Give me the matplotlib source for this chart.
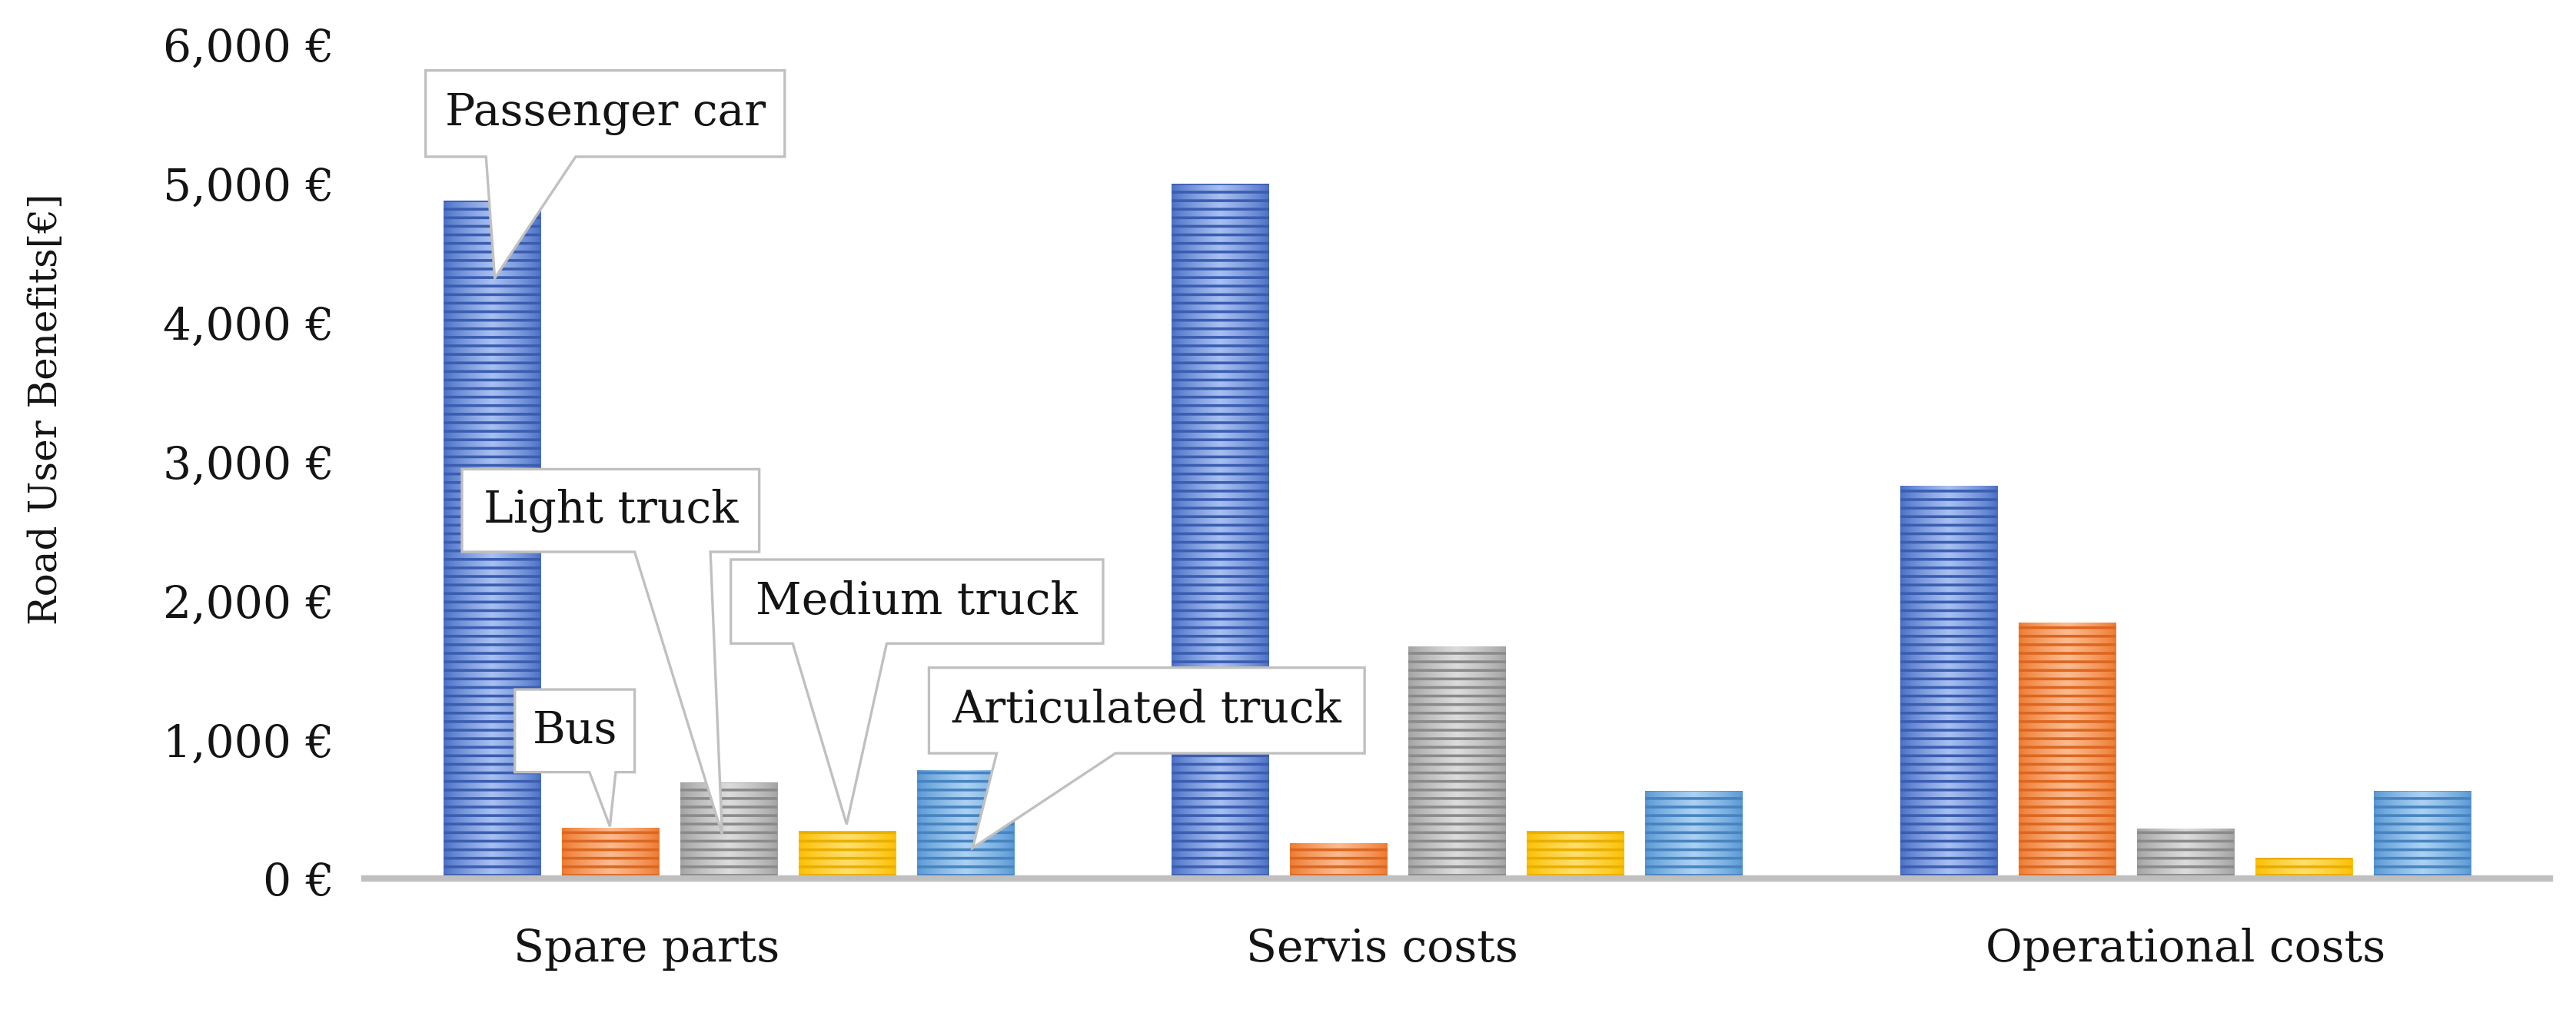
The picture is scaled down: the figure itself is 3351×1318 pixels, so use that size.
import numpy as np
import matplotlib
matplotlib.use("Agg")
import matplotlib.pyplot as plt
from matplotlib.patches import Polygon
from matplotlib.ticker import FuncFormatter
from matplotlib.colors import to_rgb
import matplotlib.transforms as mtransforms

# ---------------- data ----------------
categories = ["Spare parts", "Servis costs", "Operational costs"]
series = ["Passenger car", "Bus", "Light truck", "Medium truck", "Articulated truck"]
passenger_car = [4880, 5000, 2825]
bus = [365, 255, 1840]
light_truck = [690, 1670, 360]
medium_truck = [345, 345, 150]
articulated_truck = [780, 630, 630]
values = [passenger_car, bus, light_truck, medium_truck, articulated_truck]
yticks = [0, 1000, 2000, 3000, 4000, 5000, 6000]
ylabel = "Road User Benefits[€]"

# ---------------- styles ----------------
edge_col = ["#4a6fc6", "#ee7a30", "#a3a3a3", "#fcbf00", "#5898d3"]
center_col = ["#a8c0f2", "#fcbb90", "#dcdcdc", "#ffdf6e", "#acd2f4"]
stripe_col = ["#3a5db0", "#dc6620", "#8a8a8a", "#eaae00", "#4683c0"]

plt.rcParams['font.family'] = ['DejaVu Serif']
plt.rcParams['hatch.linewidth'] = 1.3
TXT = "#141414"
FS = 21

fig = plt.figure(figsize=(3351 / 200, 1318 / 200), dpi=200)
ax = fig.add_axes([0.14145, 0.13278, 0.8484, 0.8232])

x = np.arange(len(categories))
bw = 0.133
pitch = 0.1625
offsets = (np.arange(len(series)) - 2) * pitch

for s in range(len(series)):
    bars = ax.bar(x + offsets[s], values[s], width=bw, color=edge_col[s],
                  linewidth=0, zorder=2)
    c0 = np.array(to_rgb(edge_col[s]))
    c1 = np.array(to_rgb(center_col[s]))
    t = np.linspace(-1, 1, 64)
    w = (1 - np.abs(t)) ** 0.8
    grad = (c0[None, :] * (1 - w[:, None]) + c1[None, :] * w[:, None])[None, :, :]
    for b in bars:
        x0, bwid, h = b.get_x(), b.get_width(), b.get_height()
        im = ax.imshow(grad, extent=(x0, x0 + bwid, 0, h), aspect='auto',
                       interpolation='bilinear', zorder=2.1)
        im.set_clip_path(b)
    ax.bar(x + offsets[s], values[s], width=bw, facecolor='none',
           edgecolor=stripe_col[s], hatch='---', linewidth=0, zorder=2.2)

ax.set_xlim(-0.5, len(categories) - 0.5)
ax.set_ylim(0, 6000)
ax.set_yticks(yticks)
ax.yaxis.set_major_formatter(FuncFormatter(lambda v, p: f"{v:,.0f} €"))
ax.tick_params(axis='y', length=0, pad=14, labelsize=FS, labelcolor=TXT)
ax.set_xticks([])
for sp in ["left", "right", "top"]:
    ax.spines[sp].set_visible(False)
ax.spines["bottom"].set_color("#bfbfbf")
ax.spines["bottom"].set_linewidth(3.0)
ax.spines["bottom"].set_zorder(3)

ax.set_ylabel(ylabel, fontsize=18, color=TXT)
ax.yaxis.set_label_coords(-0.137, 0.563)

# category labels (positions as in the reference)
label_shift = [-0.113, -0.103, 0.0]
trans = mtransforms.blended_transform_factory(ax.transData, ax.transAxes)
for i, c in enumerate(categories):
    ax.text(x[i] + label_shift[i], -0.085, c, transform=trans, ha='center',
            va='center', fontsize=FS, color=TXT)

# callouts: box (x0, x1, y0, y1), pointer base (xl, xr), tip (x, y)
callouts = [
    ("Passenger car", (-0.416, 0.077, 5193, 5814), (-0.333, -0.210), (-0.321, 4320)),
    ("Bus", (-0.2935, -0.129, 765, 1360), (-0.191, -0.155), (-0.163, 375)),
    ("Light truck", (-0.366, 0.042, 2350, 2945), (-0.129, -0.025), (-0.009, 320)),
    ("Medium truck", (0.003, 0.514, 1691, 2295), (0.088, 0.217), (0.162, 390)),
    ("Articulated truck", (0.275, 0.873, 901, 1517), (0.368, 0.531), (0.335, 220)),
]
for text, (bx0, bx1, by0, by1), (bl, br), (tx, ty) in callouts:
    pts = [(bx0, by1), (bx1, by1), (bx1, by0), (br, by0), (tx, ty), (bl, by0), (bx0, by0)]
    poly = Polygon(pts, closed=True, facecolor='white', edgecolor='#c0c0c0',
                   linewidth=1.2, joinstyle='miter', zorder=5)
    ax.add_patch(poly)
    ax.text((bx0 + bx1) / 2, (by0 + by1) / 2, text, ha='center', va='center',
            fontsize=FS, color=TXT, zorder=6)

fig.savefig("out.png", dpi=200, facecolor='white')
